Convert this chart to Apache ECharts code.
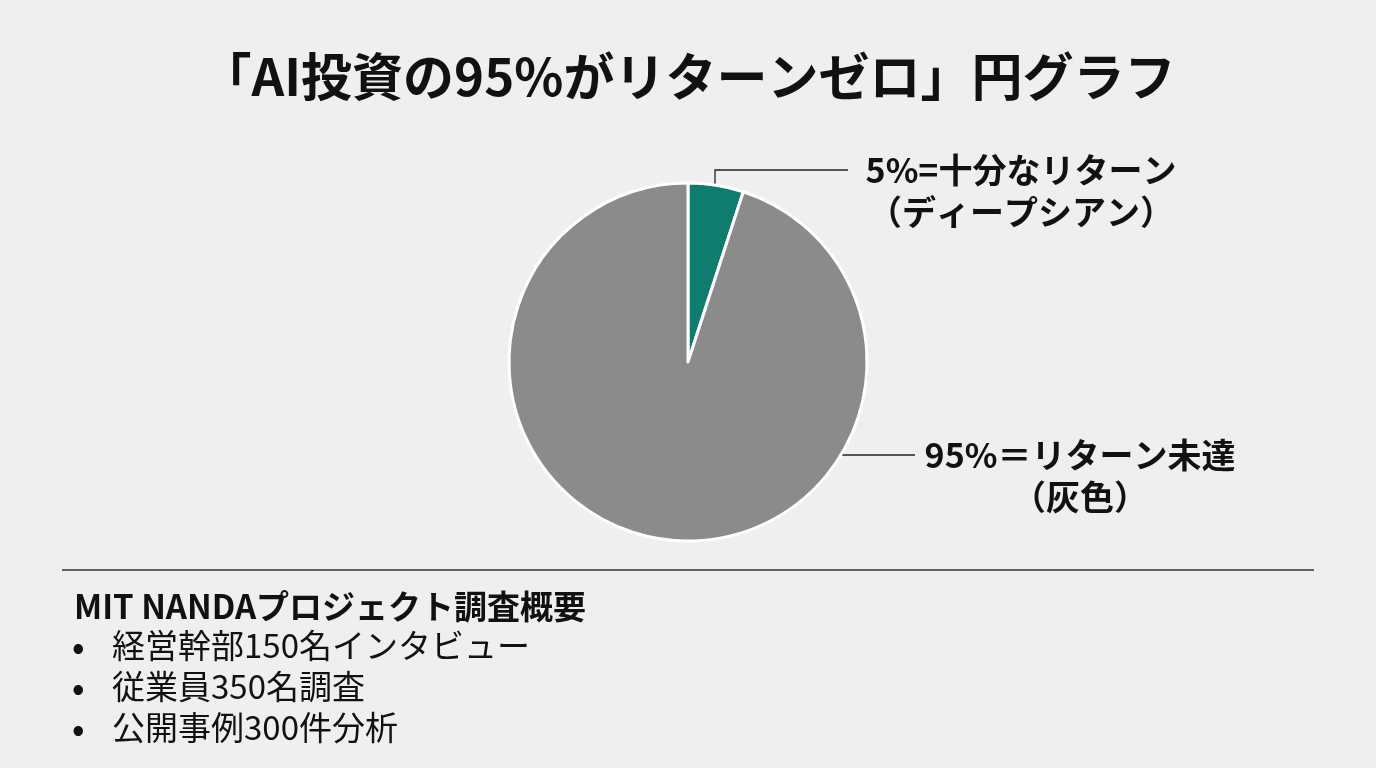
<!DOCTYPE html>
<html><head><meta charset="utf-8">
<script src="https://cdn.jsdelivr.net/npm/echarts@6/dist/echarts.min.js"></script>
<style>html,body{margin:0;padding:0;background:#efefef;}#c{width:1376px;height:768px;}</style>
</head><body><div id="c"></div>
<script>
const titleText = '「AI投資の95%がリターンゼロ」円グラフ';
const categories = ['5%=十分なリターン', '95%＝リターン未達'];
const subLabels = ['（ディープシアン）', '（灰色）'];
const values = [5, 95];
const colors = ['#0e7c6e', '#8b8b8b'];
const noteHeader = 'MIT NANDAプロジェクト調査概要';
const noteItems = ['経営幹部150名インタビュー', '従業員350名調査', '公開事例300件分析'];

const FONT = '"Noto Sans CJK JP", "Noto Sans", sans-serif';
const CX = 688, CY = 362, R = 179;
const chart = echarts.init(document.getElementById('c'), null, {renderer: 'canvas'});

// label anchor positions (centre x, first line centre y)
const labelPos = [
  {x: 1021, y: 170, left: 848},
  {x: 1080, y: 455, left: 915}
];

const graphics = [
  {type: 'line', shape: {x1: 62, y1: 570, x2: 1314, y2: 570}, style: {stroke: '#333', lineWidth: 1.5}},
  {type: 'text', left: 74, top: 590, style: {text: noteHeader, font: 'bold 33px ' + FONT, fill: '#111'}}
];
noteItems.forEach((t, i) => {
  graphics.push({type: 'text', left: 72, top: 630 + i * 41, style: {text: '•', font: 'bold 33px ' + FONT, fill: '#111'}});
  graphics.push({type: 'text', left: 112, top: 629 + i * 41, style: {text: t, font: '33px ' + FONT, fill: '#111'}});
});

chart.setOption({
  backgroundColor: '#efefef',
  title: {
    text: titleText, left: 'center', top: 46,
    textStyle: {fontFamily: FONT, fontWeight: 'bold', fontSize: 51, color: '#111'}
  },
  graphic: graphics,
  series: [{
    type: 'pie',
    center: [CX, CY],
    radius: [0, R],
    startAngle: 90,
    clockwise: true,
    silent: true,
    itemStyle: {borderColor: '#ffffff', borderWidth: 3},
    label: {
      show: true, position: 'outside',
      formatter: p => '{a|' + categories[p.dataIndex] + '}\n{a|' + subLabels[p.dataIndex] + '}',
      rich: {a: {fontFamily: FONT, fontWeight: 'bold', fontSize: 34, lineHeight: 42, color: '#111', align: 'center'}}
    },
    labelLine: {show: true, lineStyle: {color: '#222', width: 1.3}},
    labelLayout: function (p) {
      const lp = labelPos[p.dataIndex];
      let pts;
      if (p.dataIndex === 0) {
        const a = p.labelLinePoints ? p.labelLinePoints[0] : [CX + R * Math.sin(Math.PI * 0.05), CY - R * Math.cos(Math.PI * 0.05)];
        const sx = a[0] - 1, sy = a[1];
        pts = [[sx, sy], [sx, lp.y], [lp.left, lp.y]];
      } else {
        const dy = lp.y - CY;
        const sx = CX + Math.sqrt(R * R - dy * dy);
        pts = [[sx, lp.y], [sx + 1, lp.y], [lp.left, lp.y]];
      }
      return {x: lp.x, y: lp.y - 21, align: 'center', verticalAlign: 'top', labelLinePoints: pts};
    },
    data: categories.map((c, i) => ({name: c, value: values[i], itemStyle: {color: colors[i]}}))
  }]
});
</script></body></html>
